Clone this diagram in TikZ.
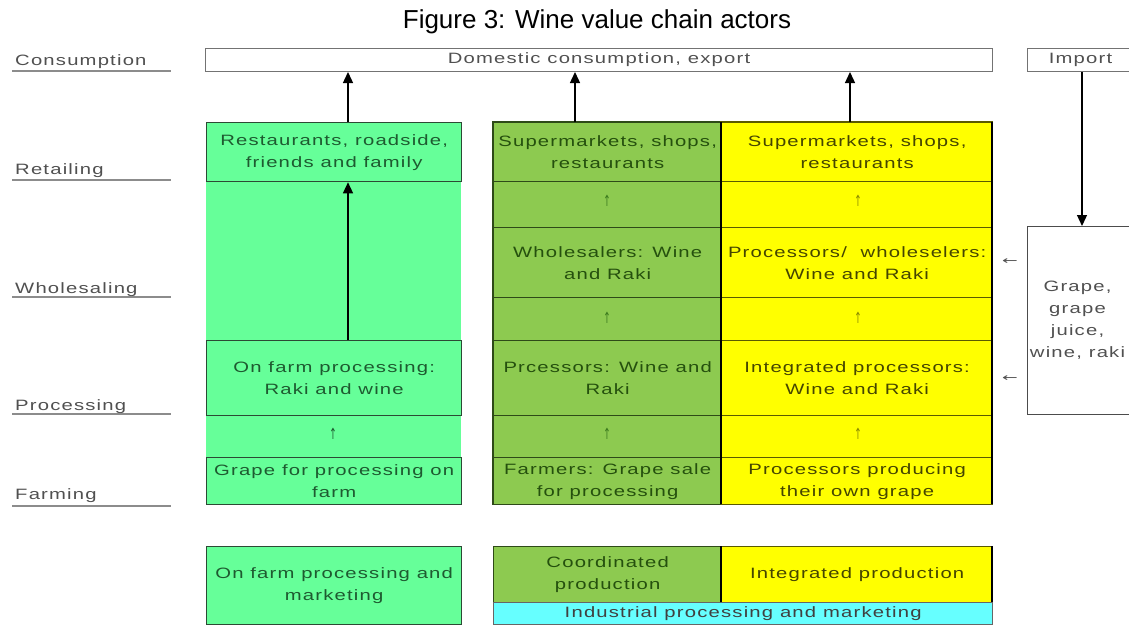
\documentclass[tikz,border=0pt]{standalone}
\usepackage{fontspec}
\usepackage{graphicx}
\setmainfont{Liberation Sans}
\newfontfamily\wfont[FakeStretch=1.35,LetterSpace=8]{Liberation Sans}
\newfontfamily\symfont{DejaVu Sans}
\usetikzlibrary{arrows.meta}
\definecolor{cA}{HTML}{66FF99}
\definecolor{cB}{HTML}{8DCA50}
\definecolor{cC}{HTML}{FFFF00}
\definecolor{cD}{HTML}{66FFFF}
\definecolor{tA}{HTML}{1E5A30}
\definecolor{tB}{HTML}{25500E}
\definecolor{tC}{HTML}{454500}
\definecolor{tG}{HTML}{505050}
\definecolor{bA}{HTML}{2C4A34}
\definecolor{bB}{HTML}{2E4A18}
\definecolor{bC}{HTML}{5A5A00}
\definecolor{aB}{HTML}{3C7A1E}
\definecolor{aC}{HTML}{8A8A00}
\newcommand\upsym{\scalebox{0.8}[1.4]{↑}}
\newcommand\leftsym{\scalebox{1.7}[1]{←}}
\begin{document}
\begin{tikzpicture}[x=1pt,y=-1pt,
  cell/.style={draw=#1, line width=1.3pt, anchor=north west, inner sep=0pt,
    align=center, font=\wfont\fontsize{15}{22}\selectfont},
  lab/.style={anchor=base west, inner sep=0pt, text=tG, font=\wfont\fontsize{15}{18}\selectfont},
  uline/.style={draw=black!45, line width=1.6pt},
  uparr/.style={inner sep=0pt, font=\symfont\fontsize{11}{12}\selectfont},
  arr/.style={-{Triangle[width=10pt,length=11pt]}, line width=1.3pt},
  thick/.style={line width=2.4pt, black}]
\useasboundingbox (0,0) rectangle (1129,626);
\clip (0,0) rectangle (1129,626);
% title
\node[font=\fontsize{26}{30}\selectfont] (title) at (597,22) {Figure 3: Wine value chain actors};
% stage labels
\node[lab] (lcons) at (15,66) {Consumption};
\node[lab] (lret) at (15,174) {Retailing};
\node[lab] (lwho) at (15,293) {Wholesaling};
\node[lab] (lpro) at (15,410) {Processing};
\node[lab] (lfar) at (15,499) {Farming};
\draw[uline] (12,71) -- (171,71);
\draw[uline] (12,180) -- (171,180);
\draw[uline] (12,297) -- (171,297);
\draw[uline] (12,414) -- (171,414);
\draw[uline] (12,506) -- (171,506);
% consumption and import
\node[cell=black!55, line width=1pt, minimum width=787pt, minimum height=23pt, text=tG] (cons) at (205,48) {Domestic consumption, export};
\node[cell=black!55, line width=1pt, minimum width=120pt, minimum height=23pt, text=tG] (imp) at (1027,48) {\hspace*{-14pt}Import};
\node[cell=black!70, line width=1pt, minimum width=120pt, minimum height=188pt, text=tG, font=\wfont\fontsize{15}{22}\selectfont] (imp2) at (1027,226) {\hspace*{-20pt}\begin{tabular}{@{}c@{}}Grape,\\grape\\juice,\\wine, raki\end{tabular}};
% column backgrounds
\fill[cA] (206,122) rectangle (461,504);
\draw[fill=cB, draw=bB, line width=1.3pt] (493,122) rectangle (721,504);
\draw[fill=cC, draw=bC, line width=1.3pt] (721,122) rectangle (992,504);
% column 1
\node[cell=bA, fill=cA, text=tA, minimum width=255pt, minimum height=59pt] (r1) at (206,122) {Restaurants, roadside,\\friends and family};
\node[cell=bA, fill=cA, text=tA, minimum width=255pt, minimum height=75pt] (p1) at (206,340) {On farm processing:\\Raki and wine};
\node[cell=bA, fill=cA, text=tA, minimum width=255pt, minimum height=47pt] (f1) at (206,457) {Grape for processing on\\farm};
\node[uparr, text=tA] (u1c) at (333,434) {\upsym};
% column 2
\node[cell=bB, fill=cB, text=tB, minimum width=228pt, minimum height=59pt] (r2) at (493,122) {Supermarkets, shops,\\restaurants};
\node[cell=bB, fill=cB, text=tB, minimum width=228pt, minimum height=70pt] (w2) at (493,227) {Wholesalers: Wine\\and Raki};
\node[cell=bB, fill=cB, text=tB, minimum width=228pt, minimum height=75pt] (p2) at (493,340) {Prcessors: Wine and\\Raki};
\node[cell=bB, fill=cB, text=tB, minimum width=228pt, minimum height=47pt] (f2) at (493,457) {Farmers: Grape sale\\for processing};
\node[uparr, text=aB] (u2a) at (607,201) {\upsym};
\node[uparr, text=aB] (u2b) at (607,318) {\upsym};
\node[uparr, text=aB] (u2c) at (607,434) {\upsym};
% column 3
\node[cell=bC, fill=cC, text=tC, minimum width=271pt, minimum height=59pt] (r3) at (721,122) {Supermarkets, shops,\\restaurants};
\node[cell=bC, fill=cC, text=tC, minimum width=271pt, minimum height=70pt] (w3) at (721,227) {Processors/\ \ wholeselers:\\Wine and Raki};
\node[cell=bC, fill=cC, text=tC, minimum width=271pt, minimum height=75pt] (p3) at (721,340) {Integrated processors:\\Wine and Raki};
\node[cell=bC, fill=cC, text=tC, minimum width=271pt, minimum height=47pt] (f3) at (721,457) {Processors producing\\their own grape};
\node[uparr, text=aC] (u3a) at (858,201) {\upsym};
\node[uparr, text=aC] (u3b) at (858,318) {\upsym};
\node[uparr, text=aC] (u3c) at (858,434) {\upsym};
\draw[thick] (721,122) -- (721,504);
\draw[thick] (992,122) -- (992,504);
% import side arrows
\node[uparr, text=tG] (la) at (1010,262) {\leftsym};
\node[uparr, text=tG] (lb) at (1010,379) {\leftsym};
% bottom summary
\node[cell=bA, fill=cA, text=tA, minimum width=255pt, minimum height=78pt] (s1) at (206,546) {On farm processing and\\marketing};
\node[cell=bB, fill=cB, text=tB, minimum width=228pt, minimum height=56pt] (s2) at (493,546) {Coordinated\\production};
\node[cell=bC, fill=cC, text=tC, minimum width=271pt, minimum height=56pt] (s3) at (721,546) {Integrated production};
\node[cell=black!60, fill=cD, text=black!75, minimum width=499pt, minimum height=22pt] (s4) at (493,602) {Industrial processing and marketing};
\draw[thick] (721,546) -- (721,602);
\draw[thick] (992,546) -- (992,602);
% connectors
\coordinate (x1) at (348,0);
\coordinate (x2) at (575,0);
\coordinate (x3) at (850,0);
\coordinate (x4) at (1082,0);
\draw[arr] (r1.north -| x1) -- (cons.south -| x1);
\draw[arr] (p1.north -| x1) -- (r1.south -| x1);
\draw[arr] (r2.north -| x2) -- (cons.south -| x2);
\draw[arr] (r3.north -| x3) -- (cons.south -| x3);
\draw[arr] (imp.south -| x4) -- (imp2.north -| x4);
\end{tikzpicture}
\end{document}
